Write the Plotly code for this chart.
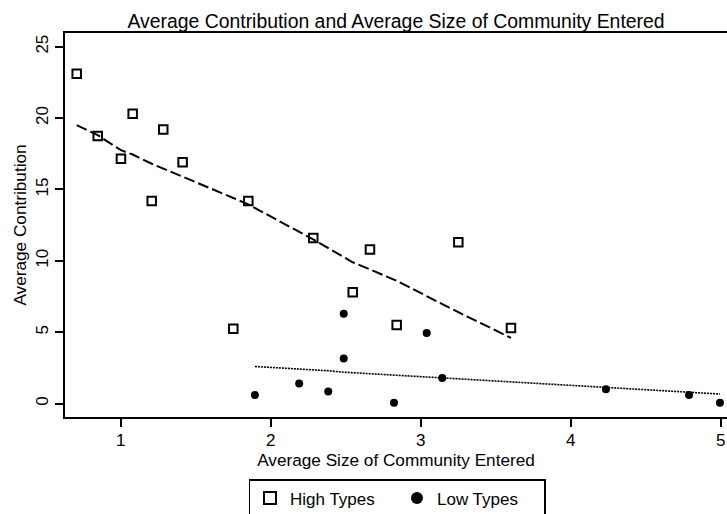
import plotly.graph_objects as go

# Average community size entered (x) and average contribution (y)
high_size = [0.707, 0.847, 1.002, 1.08, 1.207, 1.284, 1.413, 1.751, 1.851,
             2.284, 2.547, 2.662, 2.84, 3.251, 3.602]
high_contrib = [23.1, 18.75, 17.15, 20.3, 14.2, 19.2, 16.9, 5.25, 14.2,
                11.6, 7.8, 10.8, 5.5, 11.3, 5.3]
high_fit = [19.5, 18.8, 17.75, 17.45, 16.8, 16.45, 15.9, 14.4, 13.95,
            11.5, 9.9, 9.4, 8.6, 6.4, 4.6]

low_size = [1.895, 2.19, 2.384, 2.487, 2.487, 2.822, 3.04, 3.144, 4.235,
            4.789, 4.995]
low_contrib = [0.6, 1.4, 0.85, 6.3, 3.15, 0.05, 4.95, 1.8, 1.0, 0.6, 0.05]
low_fit = [2.6, 2.45, 2.3, 2.2, 2.2, 2.0, 1.88, 1.8, 1.17, 0.82, 0.67]

x_ticks = [1, 2, 3, 4, 5]
y_ticks = [0, 5, 10, 15, 20, 25]

FONT = "Liberation Sans, Arial, Helvetica, sans-serif"

fig = go.Figure()

fig.add_trace(go.Scatter(
    x=high_size, y=high_contrib, mode="markers", name="High Types",
    marker=dict(symbol="square-open", size=8.5, color="black",
                line=dict(width=2, color="black")),
))
fig.add_trace(go.Scatter(
    x=low_size, y=low_contrib, mode="markers", name="Low Types",
    marker=dict(symbol="circle", size=8, color="black"),
))
fig.add_trace(go.Scatter(
    x=high_size, y=high_fit, mode="lines", showlegend=False,
    line=dict(color="black", width=2, dash="11px,4px"),
))
fig.add_trace(go.Scatter(
    x=low_size, y=low_fit, mode="lines", showlegend=False,
    line=dict(color="black", width=1.6, dash="2px,1px"),
))

fig.update_layout(
    width=727, height=514,
    margin=dict(l=65, r=0, t=33, b=97),
    paper_bgcolor="white", plot_bgcolor="white",
    font=dict(family=FONT, size=17, color="black"),
    title=dict(text="Average Contribution and Average Size of Community Entered",
               font=dict(size=19.4), x=0.5, xref="paper", xanchor="center",
               y=1 - 21 / 514, yanchor="middle", yref="container"),
    showlegend=True,
    legend=dict(orientation="h", xref="container", yref="container",
                x=397 / 727, xanchor="center", y=1 - 479 / 514,
                yanchor="top", bordercolor="black", borderwidth=1.5,
                font=dict(size=17), entrywidth=102, itemsizing="constant"),
)

fig.update_xaxes(
    range=[0.629, 5.042], tickvals=x_ticks, ticks="outside", ticklen=8,
    tickwidth=1.5, tickcolor="black", showline=True, linecolor="black",
    linewidth=2, mirror=True, showgrid=False, zeroline=False,
    automargin=False, ticklabelstandoff=-1, tickfont=dict(size=17),
    title=dict(text="Average Size of Community Entered", standoff=2,
               font=dict(size=17.2)),
)
fig.update_yaxes(
    range=[-0.94, 25.96], tickvals=y_ticks, ticks="outside", ticklen=8,
    tickwidth=1.5, tickcolor="black", showline=True, linecolor="black",
    linewidth=2, mirror=False, showgrid=False, zeroline=False,
    automargin=False, tickangle=-90, tickfont=dict(size=17),
    title=dict(text="Average Contribution", standoff=2,
               font=dict(size=17.2)),
)

fig.write_html("out.html")
